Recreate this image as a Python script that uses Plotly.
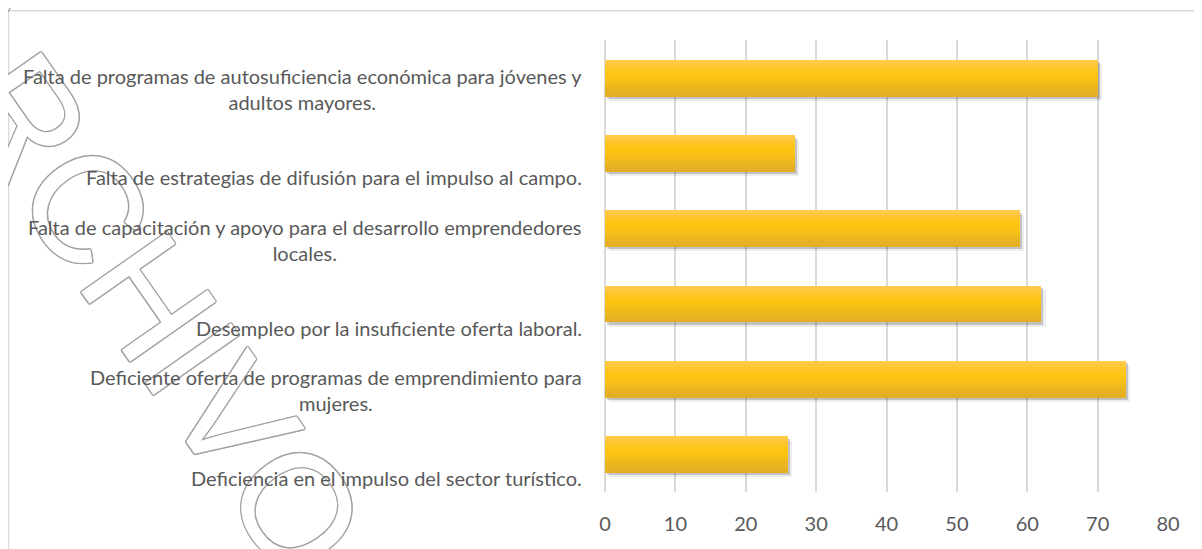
import plotly.graph_objects as go

# ---- data -------------------------------------------------------------
categories = [
    "Falta de programas de autosuficiencia económica para jóvenes y<br>adultos mayores.",
    "Falta de estrategias de difusión para el impulso al campo.",
    "Falta de capacitación y apoyo para el desarrollo emprendedores<br>locales.",
    "Desempleo por la insuficiente oferta laboral.",
    "Deficiente oferta de programas de emprendimiento para<br>mujeres.",
    "Deficiencia en el impulso del sector turístico.",
]
values = [70, 27, 59, 62, 74, 26]
x_ticks = [0, 10, 20, 30, 40, 50, 60, 70, 80]
watermark = "ARCHIVO"

# ---- style ------------------------------------------------------------
TEXT = "#595959"
GRID = "#d9d9d9"
FONT = "Lato"
FS = 20
BAR_W = 0.485

# page body has an 8px margin -> figure occupies 1194x541 of the window
W, H = 1194, 541
ML, MR, MT, MB = 597, 34, 32, 57
PW, PH = W - ML - MR, H - MT - MB


def px_to_paper(sx, sy):
    """screen pixel (window coords) -> paper coords"""
    return (sx - 8 - ML) / PW, (H - MB - (sy - 8)) / PH


fig = go.Figure()

# soft drop shadows
fig.add_trace(go.Bar(y=categories, x=values, orientation="h", base=0.6,
                     width=BAR_W, offset=-BAR_W / 2 + 0.06,
                     marker=dict(color="rgba(0,0,0,0.07)", line=dict(width=0)),
                     hoverinfo="skip", showlegend=False))
fig.add_trace(go.Bar(y=categories, x=values, orientation="h", base=0.3,
                     width=BAR_W, offset=-BAR_W / 2 + 0.035,
                     marker=dict(color="rgba(0,0,0,0.18)", line=dict(width=0)),
                     hoverinfo="skip", showlegend=False))

# gradient bands (top light -> middle gold -> bottom darker)
band_colors = ["#FFCB48", "#FFC83A", "#FFC62C", "#FFC51F", "#FFC515", "#FDC313",
               "#F9C015", "#F4BD18", "#EFB91C", "#EAB520", "#E6B223", "#E2AF25"]
nb = len(band_colors)
bh = BAR_W / nb
for i, c in enumerate(band_colors):
    fig.add_trace(go.Bar(y=categories, x=values, orientation="h",
                         width=bh * 1.08, offset=-BAR_W / 2 + i * bh,
                         marker=dict(color=c, line=dict(width=0)),
                         hoverinfo="skip", showlegend=False))

annotations = []
# watermark (outlined text)
wx, wy = px_to_paper(132, 272)
annotations.append(dict(
    text=watermark, xref="paper", yref="paper", x=wx, y=wy,
    xanchor="center", yanchor="middle", textangle=55, showarrow=False,
    font=dict(family="Liberation Sans", size=152, color="white",
              shadow="1.4px 0 0 #a3a3a3, -1.4px 0 0 #a3a3a3, 0 1.4px 0 #a3a3a3, "
                     "0 -1.4px 0 #a3a3a3, 1px 1px 0 #a3a3a3, -1px -1px 0 #a3a3a3, "
                     "1px -1px 0 #a3a3a3, -1px 1px 0 #a3a3a3"),
))
# category labels (centered multi-line, right aligned block)
for c in categories:
    annotations.append(dict(
        text=c, xref="paper", yref="y", x=0, y=c, xanchor="right",
        yanchor="bottom", xshift=-21, yshift=-38, align="center",
        showarrow=False, font=dict(family=FONT, size=FS, color=TEXT),
    ))

bx0, by1 = px_to_paper(8.5, 10.7)
fig.update_layout(
    width=W, height=H,
    margin=dict(l=ML, r=MR, t=MT, b=MB),
    paper_bgcolor="white", plot_bgcolor="white",
    barmode="overlay", bargap=0,
    showlegend=False,
    annotations=annotations,
    shapes=[dict(type="rect", xref="paper", yref="paper",
                 x0=bx0, x1=1.2, y0=-0.3, y1=by1,
                 line=dict(color=GRID, width=1.5), fillcolor="rgba(0,0,0,0)",
                 layer="below")],
    font=dict(family=FONT, color=TEXT),
)
fig.update_xaxes(range=[0, 80], tickvals=x_ticks, showgrid=True,
                 gridcolor=GRID, gridwidth=1.5, zeroline=True,
                 zerolinecolor=GRID, zerolinewidth=1.5, showline=False,
                 ticks="outside", ticklen=14, tickcolor="rgba(0,0,0,0)",
                 tickfont=dict(family=FONT, size=FS, color=TEXT), fixedrange=True)
fig.update_yaxes(type="category", categoryorder="array", categoryarray=categories,
                 autorange="reversed", showticklabels=False, showgrid=False,
                 zeroline=False, showline=False, fixedrange=True)

fig.write_html("out.html", config={"displayModeBar": False})
